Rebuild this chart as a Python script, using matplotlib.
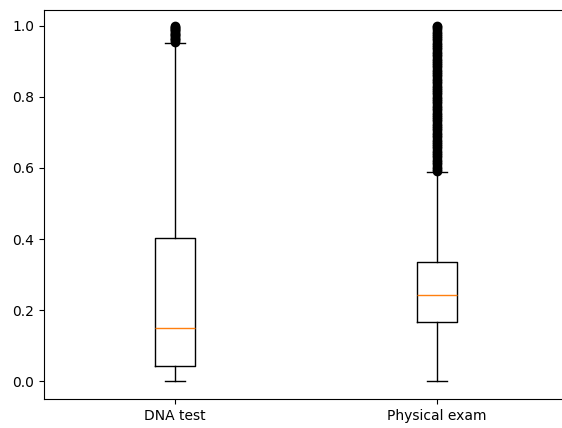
import matplotlib.pyplot as plt

labels = ["DNA test", "Physical exam"]
whislo = [0.0, 0.0]
q1 = [0.042, 0.166]
med = [0.149, 0.243]
q3 = [0.404, 0.335]
whishi = [0.952, 0.589]

dna_fliers = [0.955, 0.96, 0.963, 0.967, 0.97, 0.974, 0.978, 0.981, 0.985,
              0.988, 0.991, 0.994, 0.997, 1.0]
exam_fliers = [0.592, 0.598, 0.604, 0.61, 0.617, 0.623, 0.63, 0.636, 0.642,
               0.649, 0.655, 0.661, 0.668, 0.674, 0.68, 0.687, 0.693, 0.699,
               0.706, 0.712, 0.718, 0.725, 0.731, 0.737, 0.744, 0.75, 0.756,
               0.763, 0.769, 0.775, 0.782, 0.788, 0.794, 0.801, 0.807, 0.813,
               0.82, 0.826, 0.832, 0.839, 0.845, 0.851, 0.858, 0.864, 0.87,
               0.877, 0.883, 0.889, 0.896, 0.902, 0.908, 0.915, 0.921, 0.927,
               0.934, 0.94, 0.946, 0.953, 0.959, 0.965, 0.972, 0.978, 0.984,
               0.991, 0.997, 1.0]
fliers = [dna_fliers, exam_fliers]

stats = []
for i in range(len(labels)):
    stats.append({
        "label": labels[i],
        "whislo": whislo[i],
        "q1": q1[i],
        "med": med[i],
        "q3": q3[i],
        "whishi": whishi[i],
        "fliers": fliers[i],
    })

fig, ax = plt.subplots(figsize=(5.62, 4.28), dpi=100)
# the original was cropped on the right, so the axes run past the edge
fig.subplots_adjust(left=0.078, right=1.011, top=0.977, bottom=0.068)
ax.bxp(stats, showfliers=True,
       flierprops=dict(marker="o", markerfacecolor="black",
                       markeredgecolor="black"))
ax.set_ylim(-0.05, 1.045)
fig.savefig("out.png")
plt.close(fig)
